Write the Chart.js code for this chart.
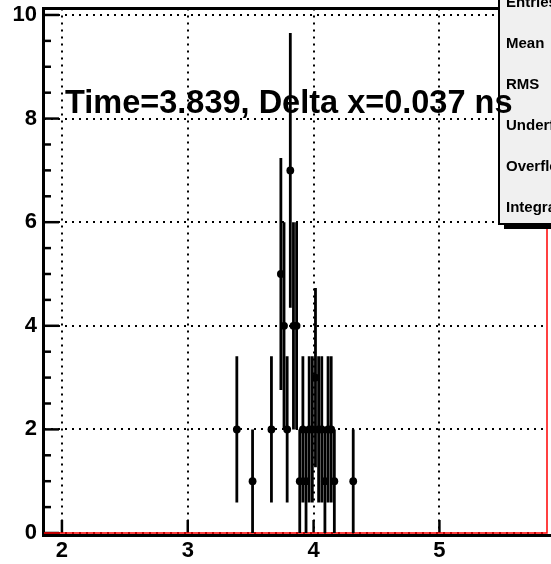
<!DOCTYPE html>
<html><head><meta charset="utf-8">
<script src="https://cdn.jsdelivr.net/npm/chart.js@4/dist/chart.umd.min.js"></script>
<style>html,body{margin:0;padding:0;background:#fff;overflow:hidden}#c{display:block}</style>
</head><body>
<canvas id="c" width="551" height="564"></canvas>
<script>
// ---- data ----
const binCenters = [3.390, 3.515, 3.665, 3.740, 3.765, 3.790, 3.815, 3.840, 3.865, 3.890, 3.915, 3.940, 3.965, 3.990, 4.015, 4.040, 4.065, 4.090, 4.115, 4.140, 4.165, 4.315];
const counts     = [2,     1,     2,     5,     4,     2,     7,     4,     4,     1,     2,     1,     2,     2,     3,     2,     2,     1,     2,     2,     1,     1];
const errors     = [1.41,  1,     1.41,  2.24,  2,     1.41,  2.65,  2,     2,     1,     1.41,  1,     1.41,  1.41,  1.73,  1.41,  1.41,  1,     1.41,  1.41,  1,     1];
const xTicks = [2, 3, 4, 5];
const yTicks = [0, 2, 4, 6, 8, 10];
const yMinorStep = 0.5;
const xRange = [1.8575, 5.855];
const yRange = [0, 10.125];
const histOutlineX = [1.8575, 5.855, 5.855];
const histOutlineY = [0, 0, 10.125];
const statLabels = ['Entries', 'Mean', 'RMS', 'Underflow', 'Overflow', 'Integral'];
const titleText = 'Time=3.839, Delta x=0.037 ns';

// ---- build datasets ----
const errData = [];
binCenters.forEach((x, i) => {
  errData.push({x: x, y: counts[i] - errors[i]});
  errData.push({x: x, y: counts[i] + errors[i]});
  errData.push({x: x, y: null});
});
const ptData = binCenters.map((x, i) => ({x: x, y: counts[i]}));
const outline = histOutlineX.map((x, i) => ({x: x, y: histOutlineY[i]}));

const FONT = "'Liberation Sans', Arial, Helvetica, sans-serif";

const rootStyle = {
  id: 'rootStyle',
  beforeDatasetsDraw(chart) {
    const {ctx, chartArea: a, scales: {x, y}} = chart;
    ctx.save();
    ctx.strokeStyle = '#000';
    ctx.lineCap = 'butt';
    ctx.lineWidth = 3;
    // y axis line
    ctx.beginPath(); ctx.moveTo(a.left - 0.5, a.top - 1.5); ctx.lineTo(a.left - 0.5, a.bottom + 4); ctx.stroke();
    // top frame
    ctx.beginPath(); ctx.moveTo(a.left - 2, a.top); ctx.lineTo(a.right, a.top); ctx.stroke();
    // x axis line
    ctx.beginPath(); ctx.moveTo(a.left - 2, a.bottom + 2.5); ctx.lineTo(551, a.bottom + 2.5); ctx.stroke();
    // y major / minor ticks
    ctx.lineWidth = 2.5;
    for (let v = yRange[0]; v <= yRange[1] + 1e-9; v += yMinorStep) {
      const py = y.getPixelForValue(v);
      const major = yTicks.some(t => Math.abs(t - v) < 1e-6);
      ctx.beginPath(); ctx.moveTo(a.left, py); ctx.lineTo(a.left + (major ? 15 : 7), py); ctx.stroke();
    }
    // x major ticks
    xTicks.forEach(t => {
      const px = x.getPixelForValue(t);
      ctx.beginPath(); ctx.moveTo(px, a.bottom); ctx.lineTo(px, a.bottom - 13); ctx.stroke();
    });
    ctx.restore();
  },
  afterDraw(chart) {
    const {ctx} = chart;
    ctx.save();
    // stats box with shadow
    const bx = 499, by = -10, bw = 120, bh = 234;
    ctx.fillStyle = '#000';
    ctx.fillRect(bx + 5, by + 5, bw, bh);
    ctx.fillStyle = '#f0f0f0';
    ctx.fillRect(bx, by, bw, bh);
    ctx.strokeStyle = '#000';
    ctx.lineWidth = 2;
    ctx.strokeRect(bx, by, bw, bh);
    ctx.fillStyle = '#000';
    ctx.font = 'bold 15px ' + FONT;
    ctx.textBaseline = 'alphabetic';
    ctx.textAlign = 'left';
    statLabels.forEach((s, i) => ctx.fillText(s, 506, 7 + 41 * i));
    // title text
    ctx.font = 'bold 32.5px ' + FONT;
    ctx.fillText(titleText, 65, 112.5);
    ctx.restore();
  }
};

new Chart(document.getElementById('c'), {
  type: 'scatter',
  data: {
    datasets: [
      {data: outline, showLine: true, borderColor: '#ff0000', borderWidth: 1.5, pointRadius: 0, clip: 3, order: 3},
      {data: errData, showLine: true, spanGaps: false, borderColor: '#000', borderWidth: 2.8, pointRadius: 0, order: 2},
      {data: ptData, showLine: false, pointRadius: 3.9, pointBackgroundColor: '#000', pointBorderColor: '#000', pointBorderWidth: 0, order: 1}
    ]
  },
  options: {
    responsive: false,
    devicePixelRatio: 1,
    animation: false,
    layout: {padding: {top: 8.5, right: 3, left: 0, bottom: 0}},
    plugins: {legend: {display: false}, tooltip: {enabled: false}, title: {display: false}},
    scales: {
      x: {
        type: 'linear', min: xRange[0], max: xRange[1],
        afterBuildTicks: s => { s.ticks = xTicks.map(v => ({value: v})); },
        afterFit: s => { s.height = 31; s.paddingLeft = 0; s.paddingRight = 0; },
        ticks: {color: '#000', font: {family: FONT, weight: 'bold', size: 22}, padding: 5, maxRotation: 0, autoSkip: false},
        grid: {color: '#000', lineWidth: 2, drawTicks: false},
        border: {display: false, dash: [2, 5]}
      },
      y: {
        type: 'linear', min: yRange[0], max: yRange[1],
        afterBuildTicks: s => { s.ticks = yTicks.map(v => ({value: v})); },
        afterFit: s => { s.width = 44; s.paddingTop = 0; s.paddingBottom = 0; },
        ticks: {color: '#000', font: {family: FONT, weight: 'bold', size: 22}, padding: 7},
        grid: {color: '#000', lineWidth: 2, drawTicks: false},
        border: {display: false, dash: [2, 5]}
      }
    }
  },
  plugins: [rootStyle]
});
</script>
</body></html>
